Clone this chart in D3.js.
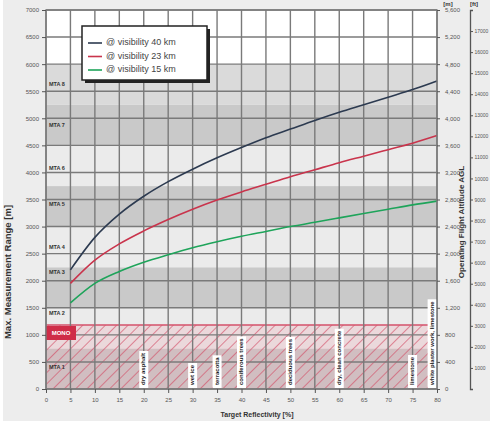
<!DOCTYPE html>
<html>
<head>
<meta charset="utf-8">
<script src="https://cdn.jsdelivr.net/npm/d3@7"></script>
<style>
  html, body { margin: 0; padding: 0; background: #fff; }
  svg { display: block; font-family: "Liberation Sans", Arial, sans-serif; }
</style>
</head>
<body>
<svg id="chart" width="490" height="423"></svg>
<script>
// Target reflectivity (%) at which the range curves are sampled
const reflectivity = [5, 10, 15, 20, 25, 30, 35, 40, 45, 50, 55, 60, 65, 70, 75, 80];

// Max. measurement range [m] per atmospheric visibility
const range40km = [2200, 2800, 3230, 3560, 3830, 4060, 4270, 4460, 4640, 4800, 4960, 5110, 5250, 5390, 5530, 5690];
const range23km = [1950, 2380, 2680, 2920, 3130, 3320, 3490, 3640, 3780, 3920, 4050, 4180, 4300, 4420, 4540, 4680];
const range15km = [1590, 1950, 2170, 2340, 2480, 2610, 2720, 2820, 2910, 3000, 3080, 3160, 3240, 3320, 3400, 3470];

const seriesNames = ["@ visibility 40 km", "@ visibility 23 km", "@ visibility 15 km"];
const seriesColors = ["#2c3a50", "#c9344c", "#1ea45a"];

// MTA zones (m) : zone width for 200 kHz pulse rate
const mtaNames = ["MTA 1", "MTA 2", "MTA 3", "MTA 4", "MTA 5", "MTA 6", "MTA 7", "MTA 8"];
const mtaBounds = [0, 750, 1499, 2249, 2998, 3748, 4497, 5247, 5996];
const mtaLabelAt = [390, 1385, 2145, 2620, 3400, 4080, 4875, 5615];
const monoLimit = 1180;

// Typical reflectivity of common surfaces
const noteAt = [20, 30, 35, 40, 50, 60, 75, 79];
const noteText = ["dry asphalt", "wet ice", "terracotta", "coniferous trees", "deciduous trees",
                  "dry, clean concrete", "limestone", "white plaster work, limestone"];

// Axis ticks
const xTicks = d3.range(0, 81, 5);
const yTicks = d3.range(0, 7001, 500);
const altTicks = d3.range(0, 5601, 400);
const ftTicks = d3.range(1000, 17001, 1000);

const svg = d3.select("#chart");
const x = d3.scaleLinear().domain([0, 80]).range([46, 437]);
const y = d3.scaleLinear().domain([0, 7000]).range([389, 10]);
const alt = d3.scaleLinear().domain([0, 5600]).range([389, 10]);
const ft = d3.scaleLinear().domain([0, 18000]).range([389, 10]);

// panel background
svg.append("rect").attr("x", 3).attr("y", 0).attr("width", 487).attr("height", 421).attr("fill", "#ededed");

// plot background
svg.append("rect").attr("x", x(0)).attr("y", y(7000)).attr("width", x(80) - x(0))
   .attr("height", y(0) - y(7000)).attr("fill", "#ffffff");

// MTA zone bands
const zones = mtaNames.map((n, i) => ({ name: n, lo: mtaBounds[i], hi: mtaBounds[i + 1], i }));
svg.append("g").selectAll("rect").data(zones).join("rect")
  .attr("x", x(0)).attr("width", x(80) - x(0))
  .attr("y", d => y(d.hi)).attr("height", d => y(d.lo) - y(d.hi))
  .attr("fill", d => d.i % 2 === 0 ? "#c9c9c9" : (d.i === 7 ? "#dadada" : "#ebebeb"));

// MONO hatch
const defs = svg.append("defs");
const pat = defs.append("pattern").attr("id", "hatch").attr("patternUnits", "userSpaceOnUse")
  .attr("width", 8).attr("height", 8).attr("patternTransform", "rotate(45)");
pat.append("rect").attr("width", 8).attr("height", 8).attr("fill", "rgba(235,150,165,0.22)");
pat.append("line").attr("x1", 0).attr("y1", 0).attr("x2", 0).attr("y2", 8)
  .attr("stroke", "#d4506a").attr("stroke-width", 1.3);
svg.append("rect").attr("x", x(0)).attr("width", x(80) - x(0))
  .attr("y", y(monoLimit)).attr("height", y(0) - y(monoLimit)).attr("fill", "url(#hatch)");
svg.append("line").attr("x1", x(0)).attr("x2", x(80)).attr("y1", y(monoLimit)).attr("y2", y(monoLimit))
  .attr("stroke", "#d4506a").attr("stroke-width", 1.5);

// grid
const grid = svg.append("g").attr("stroke", "#7a7a7a").attr("stroke-width", 1.4);
grid.selectAll("line.v").data(xTicks).join("line").attr("class", "v")
  .attr("x1", d => x(d)).attr("x2", d => x(d)).attr("y1", y(0)).attr("y2", y(7000));
grid.selectAll("line.h").data(yTicks).join("line").attr("class", "h")
  .attr("y1", d => y(d)).attr("y2", d => y(d)).attr("x1", x(0)).attr("x2", x(80));

// MTA labels
svg.append("g").selectAll("text").data(zones).join("text")
  .attr("x", x(0) + 3).attr("y", (d, i) => y(mtaLabelAt[i]))
  .attr("dominant-baseline", "middle").attr("font-size", 5.5).attr("font-weight", "bold")
  .attr("fill", "#333").text(d => d.name);

// MONO tag
svg.append("rect").attr("x", x(0)).attr("y", 326).attr("width", 30).attr("height", 14).attr("fill", "#cf2d48");
svg.append("text").attr("x", x(0) + 15).attr("y", 333.5).attr("text-anchor", "middle")
  .attr("dominant-baseline", "middle").attr("font-size", 6).attr("font-weight", "bold")
  .attr("fill", "#fff").text("MONO");

// range curves
const line = d3.line().x((d, i) => x(reflectivity[i])).y(d => y(d)).curve(d3.curveMonotoneX);
[range40km, range23km, range15km].forEach((s, k) => {
  svg.append("path").attr("d", line(s)).attr("fill", "none")
    .attr("stroke", seriesColors[k]).attr("stroke-width", 1.6);
});

// surface notes
const notes = svg.append("g");
noteAt.forEach((r, i) => {
  const g = notes.append("g").attr("transform", `translate(${x(r)},${y(0) - 2}) rotate(-90)`);
  const t = g.append("text").attr("x", 2).attr("y", 0).attr("dominant-baseline", "middle")
    .attr("font-size", 6).attr("font-weight", "bold").attr("fill", "#222").text(noteText[i]);
  const w = t.node().getComputedTextLength();
  g.insert("rect", "text").attr("x", -1).attr("y", -4.5).attr("width", w + 5).attr("height", 9).attr("fill", "#fff");
});

// plot frame
svg.append("rect").attr("x", x(0)).attr("y", y(7000)).attr("width", x(80) - x(0))
  .attr("height", y(0) - y(7000)).attr("fill", "none").attr("stroke", "#7a7a7a").attr("stroke-width", 1.4);

// legend
const lg = svg.append("g");
lg.append("rect").attr("x", 85).attr("y", 29).attr("width", 125).attr("height", 54).attr("fill", "#222");
lg.append("rect").attr("x", 82).attr("y", 26).attr("width", 125).attr("height", 54)
  .attr("fill", "#fff").attr("stroke", "#222").attr("stroke-width", 1.5);
seriesNames.forEach((n, k) => {
  const yy = 43 + k * 13.5;
  lg.append("line").attr("x1", 88).attr("x2", 102).attr("y1", yy).attr("y2", yy)
    .attr("stroke", seriesColors[k]).attr("stroke-width", 1.6);
  lg.append("text").attr("x", 106).attr("y", yy).attr("dominant-baseline", "middle")
    .attr("font-size", 9).attr("fill", "#444").text(n);
});

// axes
function styleAxis(g, size) {
  g.selectAll("path,line").attr("stroke", "#555").attr("stroke-width", 1);
  g.selectAll("text").attr("font-size", size || 6).attr("fill", "#555")
    .attr("font-family", "Liberation Sans, Arial, sans-serif");
}
svg.append("g").attr("transform", `translate(${x(0)},0)`)
  .call(d3.axisLeft(y).tickValues(yTicks).tickSize(4).tickPadding(3).tickFormat(d3.format("d")))
  .call(styleAxis).call(g => g.select(".domain").remove());
svg.append("g").attr("transform", `translate(0,${y(0)})`)
  .call(d3.axisBottom(x).tickValues(xTicks).tickSize(4).tickPadding(5).tickFormat(d3.format("d")))
  .call(styleAxis).call(g => g.select(".domain").remove());
svg.append("g").attr("transform", `translate(${x(80)},0)`)
  .call(d3.axisRight(alt).tickValues(altTicks).tickSize(3).tickPadding(5).tickFormat(d3.format(",")))
  .call(styleAxis).call(g => g.select(".domain").remove());
svg.append("g").attr("transform", "translate(470,0)")
  .call(d3.axisRight(ft).tickValues(ftTicks).tickSize(3).tickPadding(1.5).tickFormat(d3.format("d")))
  .call(g => styleAxis(g, 5)).call(g => g.select(".domain").attr("stroke-width", 1.3));

// titles
svg.append("text").attr("transform", `translate(11,${272}) rotate(-90)`).attr("text-anchor", "middle")
  .attr("font-size", 9.5).attr("font-weight", "bold").attr("fill", "#333").text("Max. Measurement Range [m]");
svg.append("text").attr("x", 257).attr("y", 417).attr("text-anchor", "middle")
  .attr("font-size", 7).attr("font-weight", "bold").attr("fill", "#333").text("Target Reflectivity [%]");
svg.append("text").attr("transform", "translate(464,222) rotate(-90)").attr("text-anchor", "middle")
  .attr("font-size", 8).attr("font-weight", "bold").attr("fill", "#333").text("Operating Flight Altitude AGL");
svg.append("text").attr("x", 448).attr("y", 6).attr("text-anchor", "middle")
  .attr("font-size", 6).attr("font-weight", "bold").attr("fill", "#333").text("[m]");
svg.append("text").attr("x", 474).attr("y", 6).attr("text-anchor", "middle")
  .attr("font-size", 6).attr("font-weight", "bold").attr("fill", "#333").text("[ft]");
</script>
</body>
</html>
